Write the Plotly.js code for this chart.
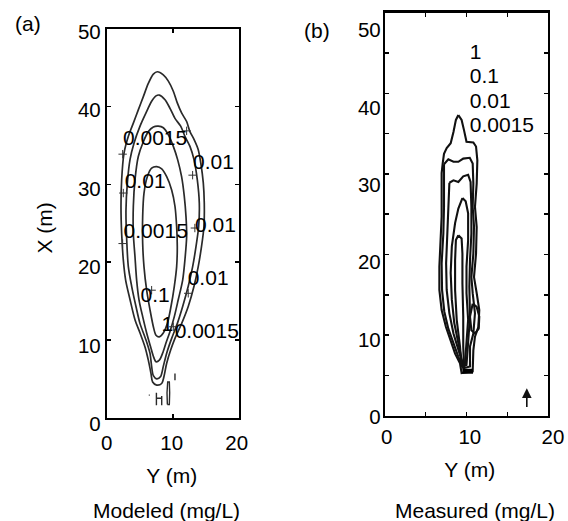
<!DOCTYPE html>
<html>
<head>
<meta charset="utf-8">
<script src="https://cdn.plot.ly/plotly-3.0.1.min.js"></script>
<style>html,body{margin:0;padding:0;background:#fff;}#chart{width:568px;height:521px;}</style>
</head>
<body>
<div id="chart"></div>
<script>
// ---------- Panel (a): modeled contours (Y = horizontal, X = vertical, metres) ----------
var modeledC1Y = [7.64,8.54,9.3,10.05,10.65,11.3,12.06,12.56,13.17,13.8,14.2,14.57,14.72,14.67,14.3,13.8,13.17,12.3,11.3,10.3,9.65,9.05,8.64,8.3,7.54,6.93,6.68,6.28,5.78,5.03,4.27,3.52,2.86,2.51,2.26,2.16,2.26,2.61,3.27,4.02,4.77,5.53,6.28,7.04,7.64];
var modeledC1X = [44.5,44.1,43.3,42.0,40.5,39.2,38.1,36.8,35.8,34.5,32.7,30.2,27.6,24.6,22.0,19.4,16.9,14.3,12.1,10.2,8.7,7.0,5.3,4.4,4.2,4.6,5.7,7.4,9.1,10.9,12.6,15.2,17.7,20.3,23.7,27.2,30.6,34.0,36.2,37.9,39.6,41.3,43.0,44.2,44.5];
var modeledC2Y = [7.94,8.8,9.55,10.3,11.16,11.8,12.56,13.17,13.67,13.97,13.87,13.47,12.96,12.3,11.46,10.65,9.8,9.05,8.54,8.14,7.54,7.04,6.78,6.53,5.93,5.03,4.42,3.77,3.27,3.02,2.91,3.12,3.52,4.12,5.03,5.93,6.78,7.44,7.94];
var modeledC2X = [41.5,40.9,39.8,38.5,37.5,36.2,34.9,33.2,30.6,27.6,24.6,22.0,19.4,16.9,14.3,12.1,10.2,8.3,6.6,5.3,5.0,5.4,6.6,8.3,10.0,12.1,14.3,16.9,19.4,22.9,26.7,30.2,33.2,35.3,37.5,39.2,40.7,41.4,41.5];
var modeledC3Y = [7.79,8.54,9.3,10.05,10.7,11.3,11.7,11.96,12.06,11.8,11.46,10.8,10.2,9.55,8.94,8.44,7.94,7.44,7.04,6.63,6.03,5.43,4.87,4.52,4.27,4.02,4.02,4.27,4.77,5.53,6.28,7.04,7.79];
var modeledC3X = [37.5,37.3,36.4,34.9,33.2,31.0,28.5,25.9,23.3,20.3,17.7,15.2,13.0,11.1,9.6,8.3,7.4,7.2,7.9,9.1,10.9,13.0,15.2,17.7,20.7,23.7,27.2,30.6,33.6,35.5,36.8,37.4,37.5];
var modeledC4Y = [7.54,8.3,9.05,9.8,10.3,10.55,10.65,10.55,10.2,9.7,9.15,8.54,7.94,7.44,7.04,6.53,6.03,5.63,5.43,5.43,5.63,6.13,6.78,7.54];
var modeledC4X = [32.3,32.0,31.0,29.3,27.2,24.6,22.0,19.4,16.9,14.3,12.1,10.9,10.4,10.6,11.7,13.9,16.4,19.4,22.4,25.9,28.9,31.0,32.1,32.3];
// small closed contours near the source
var modeledSpecksY = [9.15,9.45,9.5,9.45,9.2,9.1,9.15,null,10.3,10.3,null,7.5,7.5,null,8.3,8.3,null,7.5,8.3,null,6.35,6.5];
var modeledSpecksX = [1.7,1.7,3.2,4.6,4.6,3.2,1.7,null,4.8,5.7,null,1.6,3.2,null,1.6,2.8,null,2.5,2.5,null,2.9,2.9];
// contour label marks (+)
var modeledMarkY = [2.41,2.51,2.41,12.96,12.06,13.3,12.3,10.05,6.78];
var modeledMarkX = [33.9,28.9,22.4,31.2,36.9,24.4,16.0,11.7,16.4];
// contour labels
var modeledLabels = ["0.0015","0.01","0.01","0.0015","0.01","0.01","0.1","1","0.0015"];
var modeledLabelY = [7.3,16.1,5.8,7.4,16.4,15.3,7.3,9.15,15.1];
var modeledLabelX = [35.75,32.7,30.2,23.8,24.6,17.7,15.6,11.8,10.9];

// ---------- Panel (b): measured contours ----------
var measuredC1Y = [9.0,9.4,9.7,10.0,10.84,11.17,11.33,11.25,11.04,11.25,11.17,10.92,11.25,11.57,11.45,11.04,10.84,10.84,10.76,9.4,9.2,8.6,7.98,7.48,6.95,6.67,6.67,6.83,6.95,6.95,6.95,7.08,7.24,7.57,8.06,8.4,8.7,9.0];
var measuredC1X = [37.3,36.7,35.4,34.0,33.9,33.4,31.7,28.8,25.9,23.4,20.1,17.2,15.2,13.1,11.0,9.8,8.1,6.5,5.5,5.3,6.5,7.7,9.4,11.0,13.1,15.6,18.5,21.8,24.7,27.6,30.1,31.3,32.5,33.2,33.8,35.2,36.7,37.3];
var measuredC2Y = [7.24,7.77,8.4,9.0,9.6,10.4,10.76,10.84,10.76,10.92,10.84,10.6,10.76,11.04,10.84,10.43,10.43,9.6,9.0,8.4,7.77,7.28,7.0,6.95,7.16,7.24,7.24,7.24];
var measuredC2X = [31.2,31.8,31.5,31.5,31.9,32.0,31.3,28.8,25.9,23.5,20.1,17.2,15.2,12.7,10.2,8.6,6.1,5.9,7.3,9.0,10.8,12.9,15.6,18.9,22.6,25.9,29.2,31.2];
var measuredC3Y = [7.9,8.4,9.0,9.6,10.2,10.5,10.6,10.6,10.43,10.35,10.43,10.2,10.0,9.6,9.0,8.4,7.9,7.57,7.5,7.65,7.77,7.9];
var measuredC3X = [28.9,29.2,29.0,29.7,29.9,29.0,25.9,22.6,19.3,16.0,12.3,9.0,6.3,6.2,8.1,10.2,12.7,15.6,18.9,22.6,25.9,28.9];
var measuredC4Y = [9.5,9.9,10.2,10.2,10.0,10.0,10.2,10.0,9.8,9.5,9.0,8.5,8.2,8.06,8.2,8.6,9.0,9.5];
var measuredC4X = [27.0,26.6,25.1,21.8,18.5,15.2,11.9,8.6,6.3,6.5,9.0,11.5,14.4,17.7,21.0,23.9,25.7,27.0];
var measuredC5Y = [9.0,9.4,9.5,9.5,9.6,9.6,9.7,9.4,9.2,8.8,8.6,8.6,8.7,9.0];
var measuredC5X = [22.4,22.0,20.1,16.4,12.3,8.6,6.1,6.1,8.6,11.9,15.6,19.3,21.8,22.4];
var measuredC6Y = [10.76,11.25,11.57,11.5,11.04,10.6,10.43,10.76];
var measuredC6X = [13.9,13.5,12.3,10.8,10.2,10.6,12.3,13.9];
var measuredBaseY = [9.5,10.8];
var measuredBaseX = [5.5,5.5];
// level list written in panel (b)
var measuredLevels = ["1","0.1","0.01","0.0015"];
var measuredLevelY = [10.4,10.4,10.4,10.4];
var measuredLevelX = [44.9,41.9,38.8,35.8];
// north arrow (Y, X of tail and head)
var arrowY = [17.4,17.4];
var arrowX = [0.9,3.4];

// ---------- tick labels ----------
var yTickVals = [0,10,20,30,40,50];
var yTickText = ["0","10","20","30","40","50"];
var xTickVals = [0,10,20];
var xTickText = ["0","10","20"];

var FONT = "Liberation Sans, Arial, Helvetica, sans-serif";
var TICK = 20.5, TXT = 21;
var lineA = {color:"#2a2a2a", width:1.7, shape:"spline", smoothing:0.8};
var lineB = {color:"#111", width:2.1};

function contour(xs, ys, ax, line){
  return {type:"scatter", mode:"lines", x:xs, y:ys, xaxis:ax[0], yaxis:ax[1], line:line, hoverinfo:"skip", showlegend:false};
}

var A = ["x","y"], B = ["x2","y2"];
var data = [
  contour(modeledC1Y, modeledC1X, A, lineA),
  contour(modeledC2Y, modeledC2X, A, lineA),
  contour(modeledC3Y, modeledC3X, A, lineA),
  contour(modeledC4Y, modeledC4X, A, lineA),
  contour(modeledSpecksY, modeledSpecksX, A, {color:"#2a2a2a", width:1.4}),
  {type:"scatter", mode:"markers", x:modeledMarkY, y:modeledMarkX, xaxis:"x", yaxis:"y",
   marker:{symbol:"cross-thin", size:6, line:{color:"#333", width:1}}, hoverinfo:"skip", showlegend:false},
  {type:"scatter", mode:"text", x:modeledLabelY, y:modeledLabelX, text:modeledLabels, xaxis:"x", yaxis:"y",
   textposition:"middle center", textfont:{family:FONT, size:TXT, color:"#000"}, cliponaxis:false, hoverinfo:"skip", showlegend:false},

  contour(measuredC1Y, measuredC1X, B, lineB),
  contour(measuredC2Y, measuredC2X, B, lineB),
  contour(measuredC3Y, measuredC3X, B, lineB),
  contour(measuredC4Y, measuredC4X, B, lineB),
  contour(measuredC5Y, measuredC5X, B, lineB),
  contour(measuredC6Y, measuredC6X, B, lineB),
  contour(measuredBaseY, measuredBaseX, B, {color:"#000", width:5}),
  {type:"scatter", mode:"text", x:measuredLevelY, y:measuredLevelX, text:measuredLevels, xaxis:"x2", yaxis:"y2",
   textposition:"middle right", textfont:{family:FONT, size:TXT, color:"#000"}, cliponaxis:false, hoverinfo:"skip", showlegend:false},

  // label-only axes carry no marks
  {type:"scatter", mode:"lines", x:[null], y:[null], xaxis:"x3", yaxis:"y3", hoverinfo:"skip", showlegend:false},
  {type:"scatter", mode:"lines", x:[null], y:[null], xaxis:"x4", yaxis:"y4", hoverinfo:"skip", showlegend:false}
];

function frameAxis(domain, range, anchor, minor, lw){
  var a = {domain:domain, range:range, anchor:anchor, showline:true, linecolor:"#000", linewidth:lw,
    mirror:"ticks", ticks:"inside", ticklen:4, tickwidth:1.5, tickcolor:"#000", dtick:10, tick0:0,
    showticklabels:false, showgrid:false, zeroline:false, fixedrange:true};
  if (minor) a.minor = {dtick:5, tick0:0, ticks:"inside", ticklen:4, tickwidth:1.5, tickcolor:"#000", showgrid:false};
  return a;
}
function labelAxis(domain, range, anchor, vals, texts, title, standoff){
  var a = {domain:domain, range:range, anchor:anchor, showline:false, ticks:"", showgrid:false, zeroline:false,
    tickmode:"array", tickvals:vals, ticktext:texts, ticklabelstandoff:5,
    tickfont:{family:FONT, size:TICK, color:"#000"}, fixedrange:true};
  if (title) a.title = {text:title, font:{family:FONT, size:TXT, color:"#000"}, standoff:standoff};
  return a;
}

var layout = {
  width:568, height:521, margin:{l:0, r:0, t:0, b:0}, paper_bgcolor:"#fff", plot_bgcolor:"rgba(0,0,0,0)",
  showlegend:false, font:{family:FONT, size:TXT, color:"#000"},
  xaxis:  frameAxis([0.1878,0.4213], [0,20], "y",  false, 2),
  yaxis:  frameAxis([0.1983,0.9443], [0,50], "x",  false, 2),
  xaxis2: frameAxis([0.6778,0.9648], [0,20], "y2", true, 2.4),
  yaxis2: frameAxis([0.2021,0.9756], [0,50], "x2", true, 2.4),
  xaxis3: labelAxis([0.1879,0.4167], [0,20], "y3", xTickVals, xTickText, "Y (m)", 14),
  yaxis3: labelAxis([0.1862,0.9392], [0,50], "x3", yTickVals, yTickText, "X (m)", 19),
  xaxis4: labelAxis([0.6808,0.9736], [0,20], "y4", xTickVals, xTickText, "Y (m)", 15),
  yaxis4: labelAxis([0.1996,0.9424], [0,50], "x4", yTickVals, yTickText, null, 0),
  annotations: [
    {text:"Modeled (mg/L)", xref:"paper", yref:"paper", x:0.2923, y:0.0211, xanchor:"center", yanchor:"middle", showarrow:false, font:{family:FONT, size:TXT, color:"#000"}},
    {text:"Measured (mg/L)", xref:"paper", yref:"paper", x:0.8363, y:0.0211, xanchor:"center", yanchor:"middle", showarrow:false, font:{family:FONT, size:TXT, color:"#000"}},
    {text:"(a)", xref:"paper", yref:"paper", x:0.0493, y:0.954, xanchor:"center", yanchor:"middle", showarrow:false, font:{family:FONT, size:TXT, color:"#000"}},
    {text:"(b)", xref:"paper", yref:"paper", x:0.5581, y:0.9405, xanchor:"center", yanchor:"middle", showarrow:false, font:{family:FONT, size:TXT, color:"#000"}},
    {text:"", xref:"x2", yref:"y2", x:arrowY[1], y:arrowX[1], axref:"x2", ayref:"y2", ax:arrowY[0], ay:arrowX[0],
     showarrow:true, arrowhead:2, arrowsize:1.2, arrowwidth:1.6, arrowcolor:"#111", standoff:0, startstandoff:0}
  ]
};

Plotly.newPlot("chart", data, layout, {staticPlot:true, displayModeBar:false});
</script>
</body>
</html>
